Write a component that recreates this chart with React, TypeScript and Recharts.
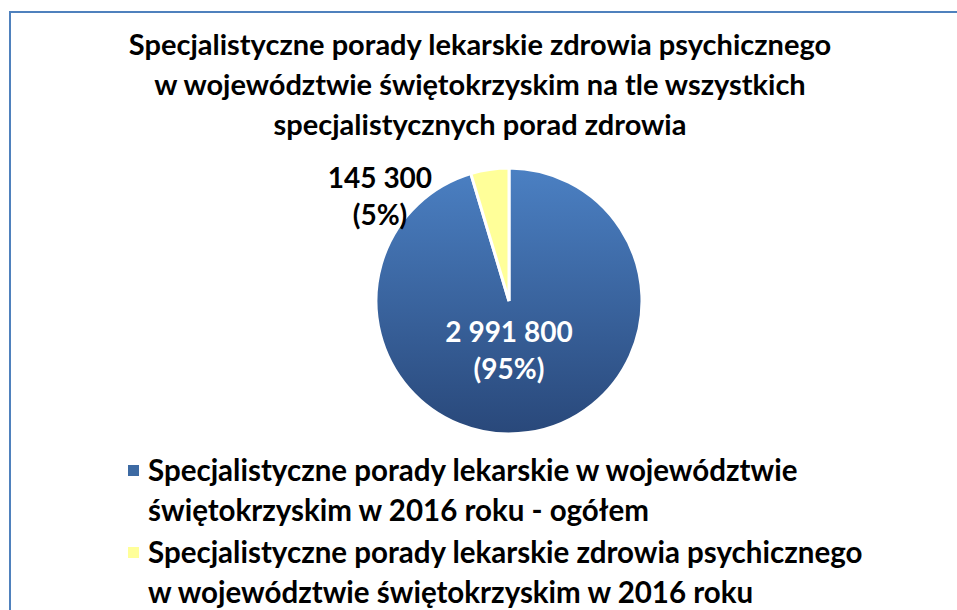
import { PieChart, Pie, Cell } from 'recharts'

const TITLE_LINES = [
  'Specjalistyczne porady lekarskie zdrowia psychicznego',
  'w województwie świętokrzyskim na tle wszystkich',
  'specjalistycznych porad zdrowia',
]
const CATEGORIES = [
  'Specjalistyczne porady lekarskie w województwie świętokrzyskim w 2016 roku - ogółem',
  'Specjalistyczne porady lekarskie zdrowia psychicznego w województwie świętokrzyskim w 2016 roku',
]
const VALUES = [2991800, 145300]
const VALUE_LABELS = ['2 991 800', '145 300']
const PCT_LABELS = ['(95%)', '(5%)']

const FILLS = ['url(#blueGrad)', '#ffff99']
const SWATCH = ['#3d6aa3', '#ffff99']
const FONT = 'Lato, "Open Sans", sans-serif'

const data = CATEGORIES.map((name, i) => ({ name, value: VALUES[i] }))

function SliceLabel(props: any) {
  const { cx, cy, outerRadius, index } = props
  // blue label sits inside, yellow one outside top-left (as in the original)
  const inside = index === 0
  const x = inside ? cx : cx - outerRadius * 0.97
  const y = inside ? cy + outerRadius * 0.383 : cy - outerRadius * 0.774
  const color = inside ? '#ffffff' : '#000000'
  return (
    <text x={x} y={y} textAnchor="middle" fill={color}
      style={{ fontFamily: FONT, fontWeight: 700, fontSize: 28 }}>
      <tspan x={x} dy={-10}>{VALUE_LABELS[index]}</tspan>
      <tspan x={x} dy={37}>{PCT_LABELS[index]}</tspan>
    </text>
  )
}

export default function App() {
  return (
    <div style={{ position: 'absolute', left: 0, top: 0, width: 957, height: 610, background: '#fff', overflow: 'hidden' }}>
      <div style={{
        position: 'absolute', left: 9, top: 11, width: 960, height: 620,
        borderTop: '2px solid #4f81bd', borderLeft: '2px solid #4f81bd',
      }} />
      <div style={{
        position: 'absolute', left: 10, top: 24, width: 940, textAlign: 'center',
        fontFamily: FONT, fontWeight: 700, fontSize: 29, lineHeight: '40px', color: '#000',
      }}>
        {TITLE_LINES.map(l => <div key={l}>{l}</div>)}
      </div>
      <div style={{ position: 'absolute', left: 0, top: 0 }}>
        <PieChart width={957} height={610}>
          <defs>
            <linearGradient id="blueGrad" x1="0" y1="0" x2="0" y2="1">
              <stop offset="0%" stopColor="#4b80c3" />
              <stop offset="100%" stopColor="#29487a" />
            </linearGradient>
          </defs>
          <Pie
            data={data} dataKey="value" nameKey="name"
            cx={504} cy={296} outerRadius={133}
            startAngle={90} endAngle={-270}
            stroke="#ffffff" strokeWidth={3}
            label={SliceLabel} labelLine={false}
            isAnimationActive={false}
          >
            {data.map((d, i) => <Cell key={d.name} fill={FILLS[i]} />)}
          </Pie>
        </PieChart>
      </div>
      <div style={{ position: 'absolute', left: 128, top: 450 }}>
        {CATEGORIES.map((c, i) => (
          <div key={c} style={{ display: 'flex', alignItems: 'flex-start', marginBottom: 2 }}>
            <div style={{ width: 11, height: 11, background: SWATCH[i], marginTop: 15, marginRight: 9, flexShrink: 0 }} />
            <div style={{ width: 725, fontFamily: FONT, fontWeight: 700, fontSize: 29.5, lineHeight: '40px', color: '#000' }}>
              {c}
            </div>
          </div>
        ))}
      </div>
    </div>
  )
}
